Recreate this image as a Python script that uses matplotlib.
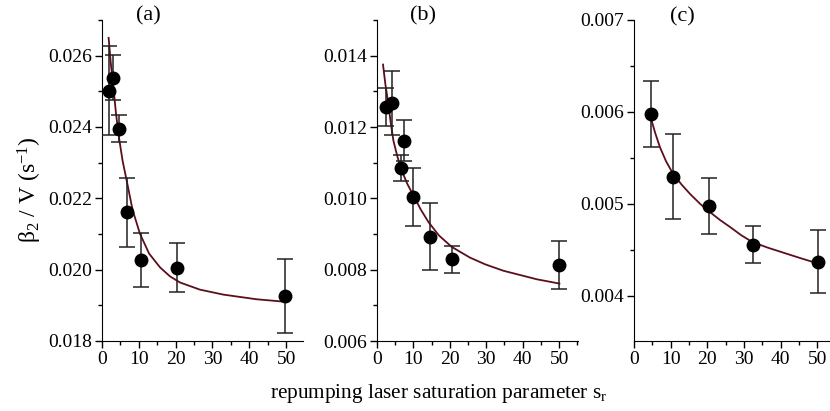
import matplotlib
matplotlib.use("Agg")
import matplotlib.pyplot as plt
from matplotlib.ticker import MultipleLocator, FormatStrFormatter

plt.rcParams['font.family'] = ['Liberation Serif', 'DejaVu Serif']
plt.rcParams['mathtext.fontset'] = 'custom'
plt.rcParams['mathtext.rm'] = 'Liberation Serif'
plt.rcParams['mathtext.it'] = 'Liberation Serif'

# ---- panel (a) ----
a_x = [1.8, 2.9, 4.7, 6.7, 10.5, 20.5, 49.8]
a_y = [0.02502, 0.02538, 0.02395, 0.02161, 0.02027, 0.02006, 0.01926]
a_err = [0.00124, 0.00063, 0.00038, 0.00097, 0.00076, 0.00068, 0.00104]
a_fit_x = [1.8, 2.4, 3.1, 3.8, 4.6, 5.6, 6.7, 8.3, 10.3, 12.8, 15.8, 18.5,
           21.2, 26.6, 33.0, 42.0, 49.7]
a_fit_y = [0.02650, 0.02578, 0.02511, 0.02438, 0.02371, 0.02305, 0.02250,
           0.02168, 0.02101, 0.02045, 0.02006, 0.01981, 0.01964,
           0.01944, 0.01930, 0.01917, 0.01910]

# ---- panel (b) ----
b_x = [2.5, 4.2, 7.5, 6.6, 10.0, 14.6, 20.5, 50.1]
b_y = [0.01255, 0.01267, 0.01162, 0.01085, 0.01004, 0.00892, 0.00829, 0.00813]
b_err = [0.00053, 0.00090, 0.00058, 0.00037, 0.00082, 0.00094, 0.00038, 0.00066]
b_fit_x = [1.65, 2.3, 3.1, 3.8, 4.5, 5.6, 6.8, 8.3, 10.0, 12.0, 14.1, 17.0,
           20.5, 25.5, 29.7, 34.7, 43.9, 50.1]
b_fit_y = [0.01375, 0.01320, 0.01265, 0.01210, 0.01162, 0.01117, 0.01078,
           0.01041, 0.01008, 0.00969, 0.00934, 0.00896,
           0.00864, 0.00834, 0.00815, 0.00797, 0.00773, 0.00761]

# ---- panel (c) ----
c_x = [4.55, 10.6, 20.6, 32.4, 50.1]
c_y = [0.005978, 0.005297, 0.004978, 0.004558, 0.004373]
c_err = [0.00036, 0.00046, 0.00030, 0.00020, 0.00034]
c_fit_x = [4.55, 5.8, 7.1, 8.8, 10.7, 13.0, 15.3, 18.0, 20.8, 23.5, 26.2,
           29.2, 32.2, 36.5, 40.8, 45.5, 50.1]
c_fit_y = [0.005941, 0.005770, 0.005615, 0.005460, 0.005326, 0.005210,
           0.005109, 0.005003, 0.004909, 0.004825, 0.004750,
           0.004662, 0.004588, 0.004525, 0.004470, 0.004410, 0.004354]

panel_labels = ['(a)', '(b)', '(c)']

W, H = 830, 411
fig = plt.figure(figsize=(W / 100, H / 100), dpi=100)

specs = [
    dict(rect=[102 / W, 70 / H, 201 / W, 321 / H], ylim=(0.018, 0.027), major=0.002, minor=0.001,
         fmt='%.3f', xlim=(0, 54.6), data=(a_x, a_y, a_err, a_fit_x, a_fit_y), lab=(148, 16)),
    dict(rect=[377 / W, 70 / H, 201 / W, 321 / H], ylim=(0.006, 0.015), major=0.002, minor=0.001,
         fmt='%.3f', xlim=(0, 55.2), data=(b_x, b_y, b_err, b_fit_x, b_fit_y), lab=(423, 16)),
    dict(rect=[634 / W, 70 / H, 196 / W, 321 / H], ylim=(0.00351, 0.007), major=0.001, minor=0.0005,
         fmt='%.3f', xlim=(0, 53.5), data=(c_x, c_y, c_err, c_fit_x, c_fit_y), lab=(682, 17)),
]

for sp, lab in zip(specs, panel_labels):
    ax = fig.add_axes(sp['rect'])
    xs, ys, es, fx, fy = sp['data']
    ax.plot(fx, fy, color='#5c0f1a', lw=1.3, zorder=2, solid_joinstyle='round')
    ax.errorbar(xs, ys, yerr=es, fmt='o', color='black', ms=9, ecolor='#222222',
                elinewidth=1.1, capsize=6, capthick=1.1, zorder=3)
    ax.set_xlim(*sp['xlim'])
    ax.set_ylim(*sp['ylim'])
    ax.spines['top'].set_visible(False)
    ax.spines['right'].set_visible(False)
    ax.xaxis.set_major_locator(MultipleLocator(10))
    ax.xaxis.set_minor_locator(MultipleLocator(5))
    ax.yaxis.set_major_locator(MultipleLocator(sp['major']))
    ax.yaxis.set_minor_locator(MultipleLocator(sp['minor']))
    ax.yaxis.set_major_formatter(FormatStrFormatter(sp['fmt']))
    ax.tick_params(which='major', direction='out', length=5, width=1, labelsize=14, pad=2)
    ax.tick_params(which='minor', direction='out', length=3, width=1)
    fig.text(sp['lab'][0] / W, 1 - sp['lab'][1] / H, lab, ha='center', va='center', fontsize=16)

fig.text(439 / W, 1 - 393 / H, 'repumping laser saturation parameter s$_\\mathrm{r}$',
         ha='center', va='center', fontsize=15.3)
fig.text(30 / W, 1 - 190 / H, '\u03b2$_2$ / V (s$^{\u22121}$)', rotation=90,
         ha='center', va='center', fontsize=17)

fig.savefig('out.png', dpi=100)
